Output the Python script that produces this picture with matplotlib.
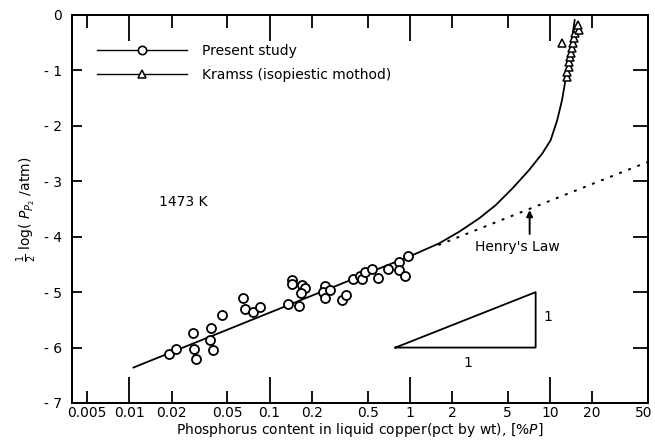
import matplotlib
matplotlib.use("Agg")
import matplotlib.pyplot as plt
from matplotlib.lines import Line2D
import matplotlib.transforms as mtransforms

# ---- data ----
present_x = [0.0193, 0.0215, 0.0291, 0.0299, 0.0284, 0.0381, 0.0377, 0.0393, 0.046,
             0.0649, 0.0671, 0.0761, 0.0853, 0.136, 0.162, 0.145, 0.145, 0.169, 0.179,
             0.167, 0.25, 0.24, 0.25, 0.271, 0.328, 0.353, 0.393, 0.438, 0.455, 0.478,
             0.542, 0.598, 0.705, 0.834, 0.834, 0.926, 0.966]
present_y = [-6.11, -6.03, -6.02, -6.20, -5.73, -5.64, -5.87, -6.04, -5.42,
             -5.11, -5.31, -5.36, -5.27, -5.22, -5.25, -4.78, -4.86, -4.87, -4.92,
             -5.02, -4.89, -4.99, -5.10, -4.96, -5.15, -5.05, -4.77, -4.71, -4.77, -4.63,
             -4.58, -4.74, -4.58, -4.45, -4.60, -4.71, -4.34]

kramss_x = [12.2, 13.25, 13.3, 13.7, 13.7, 13.8, 14.1, 14.3, 14.5, 14.8, 15.2, 15.5, 16.0, 15.8]
kramss_y = [-0.51, -1.11, -1.02, -0.93, -0.84, -0.75, -0.69, -0.60, -0.51, -0.42, -0.33,
            -0.24, -0.27, -0.18]

curve_x = [0.0107, 1.05, 1.62, 2.25, 3.12, 4.1, 5.39, 7.08, 8.8, 10.1, 11.25, 12.2, 12.9, 14.0, 15.0]
curve_y = [-6.36, -4.33, -4.12, -3.91, -3.67, -3.43, -3.13, -2.80, -2.50, -2.26, -1.90,
           -1.53, -1.17, -0.63, -0.09]

henry_x = [1.6, 50]
henry_y = [-4.15, -2.65]

slope_tri_x = [0.79, 7.9, 7.9, 0.79]
slope_tri_y = [-6.0, -6.0, -5.0, -6.0]

xticks = [0.005, 0.01, 0.02, 0.05, 0.1, 0.2, 0.5, 1, 2, 5, 10, 20, 50]
xticklabels = ["0.005", "0.01", "0.02", "0.05", "0.1", "0.2", "0.5", "1", "2", "5", "10", "20", "50"]
major_x = [0.01, 0.1, 1, 10]
yticks = [0, -1, -2, -3, -4, -5, -6, -7]
yticklabels = ["0", "- 1", "- 2", "- 3", "- 4", "- 5", "- 6", "- 7"]

plt.rcParams['font.family'] = ['DejaVu Sans']
plt.rcParams['mathtext.fontset'] = 'dejavusans'

fig = plt.figure(figsize=(6.55, 4.42), dpi=100)
ax = fig.add_axes([72/655, 1-403/442, 576/655, 388/442])

ax.set_xscale('log')
ax.set_xlim(0.0039, 50)
ax.set_ylim(-7, 0)

ax.plot(curve_x, curve_y, color='black', lw=1.3, zorder=2)
ax.plot(henry_x, henry_y, color='black', lw=1.4, linestyle=(0, (1.5, 3.5)), zorder=2)
ax.plot(present_x, present_y, linestyle='none', marker='o', markersize=6.5,
        markerfacecolor='white', markeredgecolor='black', markeredgewidth=1.3, zorder=3)
ax.plot(kramss_x, kramss_y, linestyle='none', marker='^', markersize=5.5,
        markerfacecolor='white', markeredgecolor='black', markeredgewidth=1.1, zorder=3)
ax.plot(slope_tri_x, slope_tri_y, color='black', lw=1.3)

ax.text(2.6, -6.28, "1", ha='center', va='center', fontsize=10)
ax.text(9.6, -5.45, "1", ha='center', va='center', fontsize=10)
ax.text(0.0243, -3.37, "1473 K", ha='center', va='center', fontsize=10)
ax.text(5.9, -4.19, "Henry's Law", ha='center', va='center', fontsize=10)
ax.annotate("", xy=(7.16, -3.47), xytext=(7.16, -4.0),
            arrowprops=dict(arrowstyle='-|>', color='black', lw=1.4, mutation_scale=9))

# ticks
ax.set_xticks(xticks)
ax.set_xticklabels(xticklabels, fontsize=10)
ax.minorticks_off()
ax.tick_params(axis='x', which='major', direction='in', length=9, width=1.3,
               top=True, bottom=True, pad=2)
for t in ax.xaxis.get_major_ticks():
    if t.get_loc() in major_x:
        t.tick1line.set_markersize(19)
        t.tick2line.set_markersize(19)
last = ax.get_xticklabels()[-1]
last.set_transform(last.get_transform() + mtransforms.ScaledTranslation(-4/100, 0, fig.dpi_scale_trans))
ax.set_yticks(yticks)
ax.set_yticklabels(yticklabels, fontsize=10)
ax.tick_params(axis='y', direction='in', length=7.5, width=1.3, left=True, right=False, pad=7)
ax2 = ax.twinx()
ax2.set_ylim(-7, 0)
ax2.set_yticks(yticks)
ax2.set_yticklabels([])
ax2.tick_params(axis='y', direction='in', length=11, width=1.3)
for a in (ax, ax2):
    for s in a.spines.values():
        s.set_linewidth(1.4)

ax.set_xlabel(r"Phosphorus content in liquid copper(pct by wt), $\mathit{[\%P]}$",
              fontsize=10, labelpad=1)
ax.set_ylabel(r"$\frac{1}{2}$ log( $P_{P_2}$ /atm)", fontsize=10, labelpad=4)

handles = [Line2D([], [], color='black', lw=1.0, marker='o', markersize=6,
                  markerfacecolor='white', markeredgecolor='black', markeredgewidth=1.2),
           Line2D([], [], color='black', lw=1.0, marker='^', markersize=5.5,
                  markerfacecolor='white', markeredgecolor='black', markeredgewidth=1.1)]
ax.legend(handles, ["Present study", "Kramss (isopiestic mothod)"],
          loc='upper left', bbox_to_anchor=(0.043, 0.925), frameon=False, fontsize=10,
          handlelength=6.5, handletextpad=1.1, labelspacing=0.7, borderpad=0,
          borderaxespad=0, numpoints=1)

fig.savefig("out.png", dpi=100)
